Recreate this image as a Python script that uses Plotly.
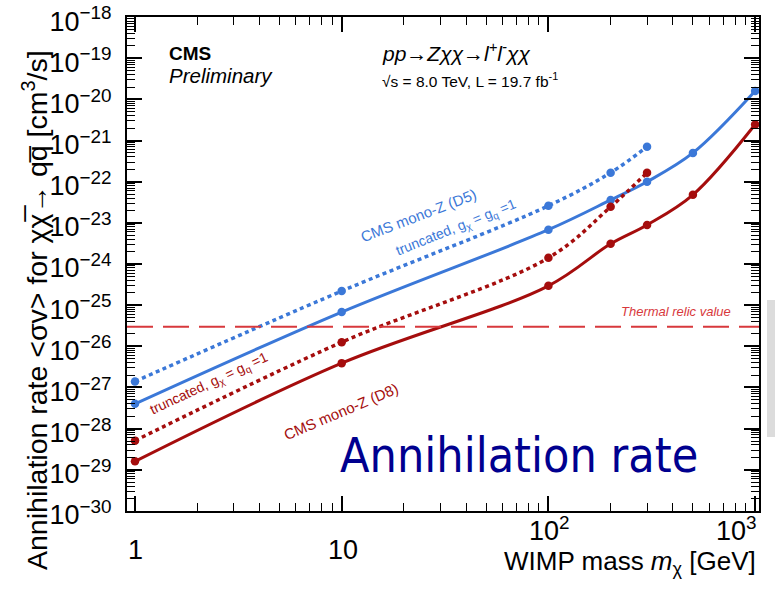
import math
import plotly.graph_objects as go

# ---------------- data ----------------
mass_full = [1, 10, 100, 200, 300, 500, 1000]
mass_trunc = [1, 10, 100, 200, 300]

d5_limit = [4.0e-28, 6.8e-26, 6.8e-24, 3.6e-23, 1.0e-22, 5.0e-22, 1.6e-20]
d5_truncated = [1.4e-27, 2.2e-25, 2.6e-23, 1.66e-22, 7.1e-22]
d8_limit = [1.6e-29, 3.9e-27, 2.95e-25, 3.1e-24, 8.9e-24, 4.8e-23, 2.45e-21]
d8_truncated = [5.1e-29, 1.26e-26, 1.41e-24, 2.45e-23, 1.66e-22]

thermal_relic = 3.0e-26

x_tickvals = [1, 10, 100, 1000]
x_ticktext = ["1", "10", "10<sup>2</sup>", "10<sup>3</sup>"]
y_exponents = list(range(-30, -17))
y_tickvals = [float("1e%d" % e) for e in y_exponents]
y_ticktext = ["10<sup>\u2212%d</sup>" % (-e) for e in y_exponents]

# ---------------- style ----------------
BLUE = "#3b78d8"
RED = "#a50d0d"
RELIC = "#d8383c"
FONT = "Liberation Sans, Arial, Helvetica, sans-serif"

W, H = 775, 591
L, R, T, B = 127, 16, 17, 80
PW, PH = W - L - R, H - T - B


def px(xp):
    return (xp - L) / PW


def py(yp):
    return (H - B - yp) / PH


fig = go.Figure()

fig.add_trace(go.Scatter(x=mass_trunc, y=d5_truncated, mode="lines+markers",
                         line=dict(color=BLUE, width=3.5, dash="4px,3.5px", shape="spline"),
                         marker=dict(size=8.5, color=BLUE), showlegend=False))
fig.add_trace(go.Scatter(x=mass_full, y=d5_limit, mode="lines+markers",
                         line=dict(color=BLUE, width=3, shape="spline"),
                         marker=dict(size=8.5, color=BLUE), showlegend=False))
fig.add_trace(go.Scatter(x=mass_trunc, y=d8_truncated, mode="lines+markers",
                         line=dict(color=RED, width=3.5, dash="4px,3.5px", shape="spline"),
                         marker=dict(size=8.5, color=RED), showlegend=False))
fig.add_trace(go.Scatter(x=mass_full, y=d8_limit, mode="lines+markers",
                         line=dict(color=RED, width=3, shape="spline"),
                         marker=dict(size=8.5, color=RED), showlegend=False))

# thermal relic line
fig.add_shape(type="line", xref="paper", yref="y", x0=0, x1=1,
              y0=thermal_relic, y1=thermal_relic,
              line=dict(color=RELIC, width=2, dash="26px,10px"))

ann = []
ann.append(dict(text="<b>CMS</b>", x=px(167), y=py(54), xanchor="left", yanchor="middle",
                font=dict(size=19, color="black", family=FONT)))
ann.append(dict(text="<i>Preliminary</i>", x=px(167), y=py(75), xanchor="left", yanchor="middle",
                font=dict(size=20.5, color="black", family=FONT)))
ann.append(dict(text="<i>pp\u2192Z\u03c7\u03c7\u2192l<sup>+</sup>l<sup>-</sup>\u03c7\u03c7</i>",
                x=px(380), y=py(52), xanchor="left", yanchor="middle",
                font=dict(size=21, color="black", family=FONT)))
ann.append(dict(text="\u221As = 8.0 TeV, L = 19.7 fb<sup>-1</sup>",
                x=px(380), y=py(80), xanchor="left", yanchor="middle",
                font=dict(size=15.5, color="black", family=FONT)))
ann.append(dict(text="CMS mono-Z (D5)", x=px(418), y=py(215), xanchor="center", yanchor="middle",
                textangle=-21, font=dict(size=15, color=BLUE, family=FONT)))
ann.append(dict(text="truncated, g<sub>\u03c7</sub> = g<sub>q</sub> =1", x=px(456), y=py(228),
                xanchor="center", yanchor="middle",
                textangle=-22, font=dict(size=14, color=BLUE, family=FONT)))
ann.append(dict(text="truncated, g<sub>\u03c7</sub> = g<sub>q</sub> =1", x=px(209), y=py(384),
                xanchor="center", yanchor="middle",
                textangle=-25, font=dict(size=14, color=RED, family=FONT)))
ann.append(dict(text="CMS mono-Z (D8)", x=px(341), y=py(412), xanchor="center", yanchor="middle",
                textangle=-23, font=dict(size=15, color=RED, family=FONT)))
ann.append(dict(text="<i>Thermal relic value</i>", x=px(733), y=py(311), xanchor="right",
                yanchor="middle", font=dict(size=13, color=RELIC, family=FONT)))
ann.append(dict(text="Annihilation rate", x=px(338), y=py(455), xanchor="left", yanchor="middle",
                font=dict(size=48, color="#00008f", family="DejaVu Sans Condensed, DejaVu Sans")))
# axis titles
ann.append(dict(text="Annihilation rate <\u03c3v> for \u03c7\u03c7\u0305\u2192 qq\u0305 [cm<sup>3</sup>/s]",
                x=px(35), y=py(310), xanchor="center", yanchor="middle", textangle=-90,
                font=dict(size=28.5, color="black", family=FONT)))
ann.append(dict(text="WIMP mass <i>m</i><sub>\u03c7</sub> [GeV]", x=px(758), y=py(562),
                xanchor="right", yanchor="middle",
                font=dict(size=26, color="black", family=FONT)))
for a in ann:
    a.update(xref="paper", yref="paper", showarrow=False)

# x tick labels (ROOT style: last label pulled inside, exponents raised)
xlab_font = dict(size=27, color="black", family=FONT)
for v, t in zip(x_tickvals, x_ticktext):
    last = v == x_tickvals[-1]
    has_sup = "<sup>" in t
    ann.append(dict(text=t, x=math.log10(v), xref="x", yref="paper",
                    y=py(529 if has_sup else 550), yanchor="middle",
                    xanchor="right" if last else "center", xshift=4 if last else 1,
                    showarrow=False, font=xlab_font))

fig.update_layout(
    width=W, height=H,
    margin=dict(l=L, r=R, t=T, b=B, autoexpand=False),
    paper_bgcolor="white", plot_bgcolor="white",
    annotations=ann,
    shapes=list(fig.layout.shapes) + [
        dict(type="rect", xref="paper", yref="paper",
             x0=(767 - L) / PW, x1=(776 - L) / PW, y0=py(437), y1=py(300),
             fillcolor="#dcdcdc", line=dict(width=0), layer="below"),
    ],
)

fig.update_xaxes(type="log", range=[-0.0386, 3.0187], automargin=False,
                 tickvals=x_tickvals, ticktext=x_ticktext, showticklabels=False,
                 ticks="inside", ticklen=15, tickwidth=1.5, tickcolor="black",
                 showline=True, linecolor="black", linewidth=2, mirror="ticks",
                 showgrid=False, zeroline=False,
                 minor=dict(ticks="inside", ticklen=8, tickwidth=1.2, tickcolor="black",
                            dtick="D1", showgrid=False))
fig.update_yaxes(type="log", range=[-30.002, -17.998], automargin=False,
                 tickvals=y_tickvals, ticktext=y_ticktext,
                 ticks="inside", ticklen=15, tickwidth=1.5, tickcolor="black",
                 showline=True, linecolor="black", linewidth=2, mirror="ticks",
                 showgrid=False, zeroline=False, ticklabeloverflow="allow",
                 tickfont=dict(size=27, color="black", family=FONT),
                 ticklabelstandoff=8, ticklabelshift=4,
                 minor=dict(ticks="inside", ticklen=8, tickwidth=1, tickcolor="black",
                            dtick="D1", showgrid=False))

fig.write_html("out.html", config={"displayModeBar": False},
               post_script="document.body.style.margin='0';document.body.style.overflow='hidden';")
